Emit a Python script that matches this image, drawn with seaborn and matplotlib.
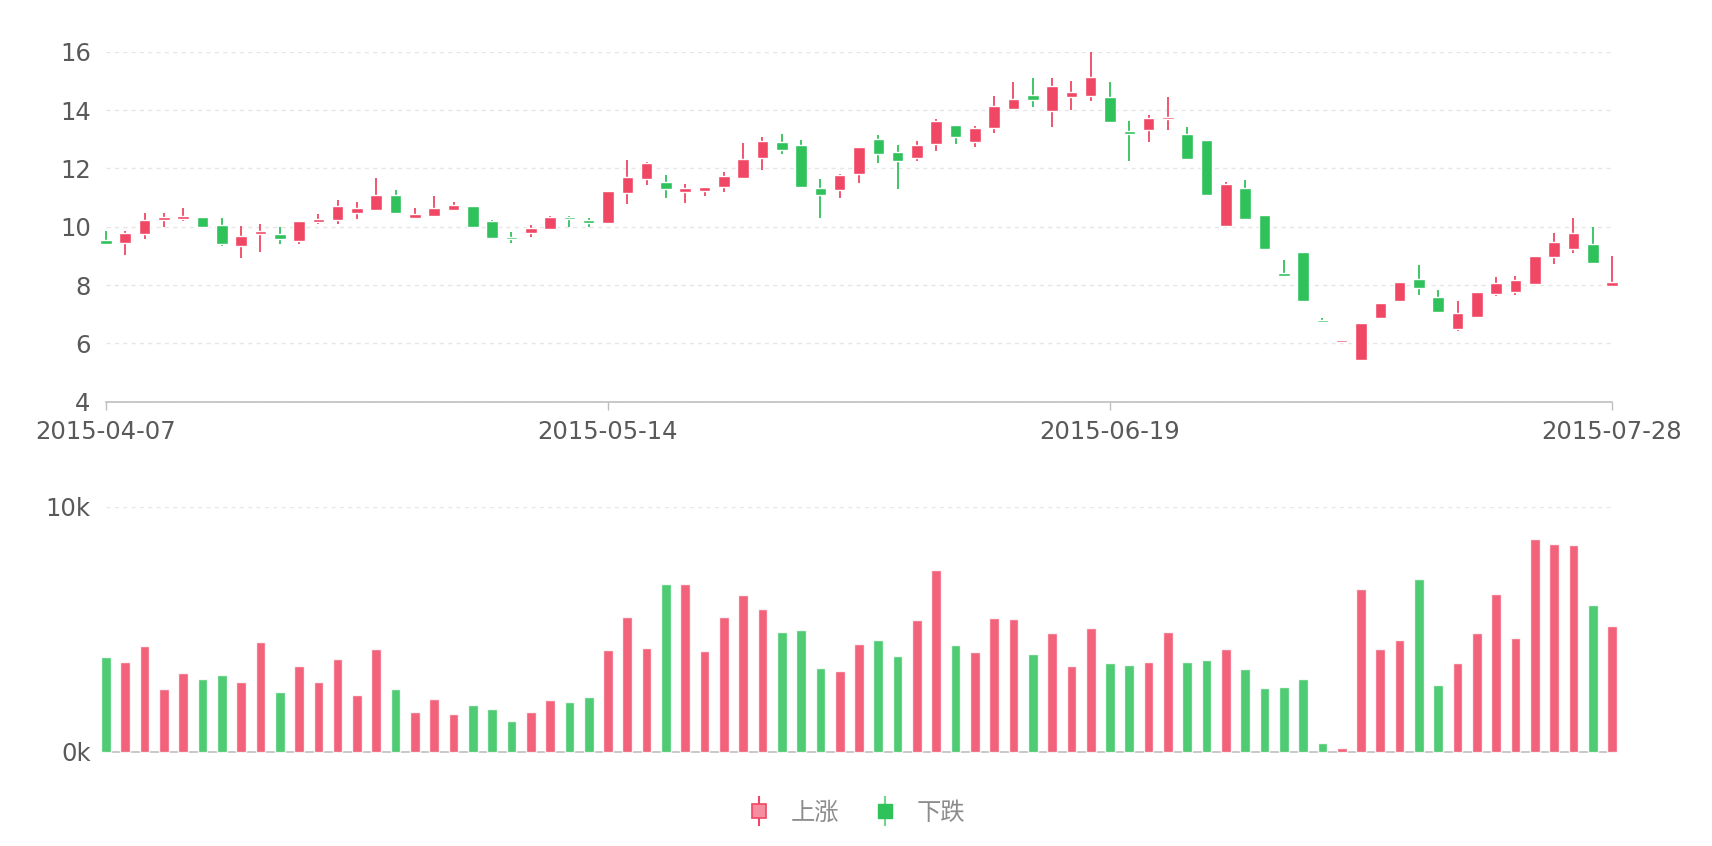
import numpy as np
import pandas as pd
import matplotlib
matplotlib.use("Agg")
import matplotlib.pyplot as plt
import seaborn as sns
from matplotlib.lines import Line2D
from matplotlib.legend_handler import HandlerTuple

# ---------- dados ----------
feriados = ["2015-05-01", "2015-06-22"]
datas = [d.strftime("%Y-%m-%d") for d in pd.bdate_range("2015-04-07", "2015-07-28")
         if d.strftime("%Y-%m-%d") not in feriados]

abertura = [9.54, 9.43, 9.75, 10.22, 10.26, 10.34, 10.05, 9.33, 9.76, 9.74,
            9.52, 10.17, 10.22, 10.47, 10.56, 11.10, 10.29, 10.38, 10.57, 10.70,
            10.19, 9.65, 9.78, 9.93, 10.33, 10.22, 10.14, 11.15, 11.65, 11.52,
            11.19, 11.23, 11.36, 11.66, 12.37, 12.90, 12.80, 11.31, 11.26, 11.81,
            13.02, 12.56, 12.34, 12.85, 13.47, 12.91, 13.37, 14.03, 14.51, 13.98,
            14.43, 14.47, 14.46, 13.27, 13.33, 13.68, 13.17, 12.98, 10.03, 11.34,
            10.40, 8.40, 9.12, 6.79, 6.05, 5.43, 6.87, 7.46, 8.22, 7.59,
            6.50, 6.91, 7.69, 7.77, 8.05, 8.97, 9.23, 9.42, 7.97]
fechamento = [9.42, 9.79, 10.23, 10.32, 10.37, 10.00, 9.39, 9.68, 9.84, 9.57,
              10.21, 10.26, 10.72, 10.64, 11.09, 10.46, 10.42, 10.65, 10.74, 9.98,
              9.62, 9.57, 9.95, 10.33, 10.26, 10.14, 11.21, 11.71, 12.17, 11.30,
              11.34, 11.35, 11.73, 12.32, 12.95, 12.63, 11.37, 11.07, 11.76, 12.74,
              12.50, 12.26, 12.79, 13.63, 13.09, 13.38, 14.15, 14.39, 14.35, 14.82,
              14.62, 15.14, 13.59, 13.17, 13.73, 13.75, 12.33, 11.09, 11.46, 10.26,
              9.22, 8.30, 7.46, 6.72, 6.10, 6.71, 7.37, 8.11, 7.89, 7.09,
              7.04, 7.75, 8.06, 8.16, 8.98, 9.49, 9.79, 8.77, 8.10]
minima = [9.37, 9.03, 9.57, 10.00, 10.19, 9.97, 9.35, 8.91, 9.14, 9.41,
          9.41, 10.08, 10.10, 10.25, 10.56, 10.46, 10.25, 10.38, 10.55, 9.98,
          9.60, 9.45, 9.65, 9.90, 10.00, 10.00, 10.10, 10.79, 11.44, 10.99,
          10.80, 11.04, 11.18, 11.62, 11.95, 12.50, 11.37, 10.31, 11.00, 11.49,
          12.19, 11.28, 12.24, 12.59, 12.85, 12.72, 13.20, 14.00, 14.09, 13.42,
          14.00, 14.30, 13.59, 12.26, 12.90, 13.30, 12.33, 11.09, 10.00, 10.26,
          9.22, 8.30, 7.46, 6.72, 6.05, 5.43, 6.87, 7.46, 7.66, 7.09,
          6.42, 6.91, 7.62, 7.65, 8.05, 8.73, 9.11, 8.77, 7.92]
maxima = [9.85, 9.85, 10.46, 10.48, 10.63, 10.34, 10.29, 10.03, 10.08, 10.00,
          10.21, 10.42, 10.91, 10.83, 11.67, 11.26, 10.63, 11.05, 10.83, 10.70,
          10.23, 9.83, 10.07, 10.37, 10.35, 10.31, 11.21, 12.27, 12.23, 11.76,
          11.45, 11.35, 11.87, 12.86, 13.06, 13.17, 12.98, 11.62, 11.79, 12.74,
          13.13, 12.79, 12.93, 13.68, 13.47, 13.45, 14.49, 14.96, 15.09, 15.09,
          14.99, 16.00, 14.95, 13.62, 13.83, 14.43, 13.41, 12.98, 11.52, 11.60,
          10.40, 8.86, 9.12, 6.87, 6.10, 6.71, 7.37, 8.11, 8.67, 7.82,
          7.46, 7.75, 8.26, 8.32, 8.98, 9.77, 10.29, 9.98, 8.98]
volume = [3864, 3673, 4313, 2558, 3197, 2952, 3129, 2844, 4463, 2449,
          3497, 2857, 3769, 2313, 4204, 2544, 1605, 2163, 1551, 1891,
          1741, 1265, 1605, 2095, 2014, 2231, 4163, 5510, 4231, 6857,
          6844, 4122, 5510, 6395, 5823, 4871, 4966, 3415, 3293, 4395,
          4544, 3905, 5374, 7401, 4354, 4068, 5456, 5401, 4000, 4830,
          3483, 5034, 3605, 3551, 3646, 4884, 3660, 3728, 4190, 3388,
          2599, 2626, 2952, 367, 150, 6653, 4177, 4558, 7061, 2721,
          3605, 4830, 6422, 4626, 8667, 8490, 8435, 5986, 5116]

VERMELHO = "#F04864"
VERDE = "#2FC25B"
COR_TEXTO = "#595959"
COR_EIXO = "#bfbfbf"
COR_GRADE = "#e6e6e6"

# ---------- preparação ----------
df = pd.DataFrame({"data": datas, "abertura": abertura, "fechamento": fechamento,
                   "minima": minima, "maxima": maxima, "volume": volume})
df["idx"] = np.arange(len(df))
df["tendencia"] = np.where(df["fechamento"] >= df["abertura"], "上涨", "下跌")
paleta = {"上涨": VERMELHO, "下跌": VERDE}
cores = df["tendencia"].map(paleta)

sns.set_theme(style="white")
plt.rcParams["font.family"] = ["DejaVu Sans"]

fig = plt.figure(figsize=(17.12, 8.46), dpi=100)
ax1 = fig.add_axes([0.0619, 0.5252, 0.8797, 0.4137])
ax2 = fig.add_axes([0.0619, 0.1115, 0.8797, 0.2896])

# ---------- candlestick ----------
ax1.vlines(df["idx"], df["minima"], df["maxima"], colors=cores, lw=1.3, zorder=3, clip_on=False)
altura = np.maximum((df["fechamento"] - df["abertura"]).abs(), 0.05)
base = np.minimum(df["abertura"], df["fechamento"])
barras = ax1.bar(df["idx"], altura, bottom=base, width=0.6, color=cores, zorder=4)
for p in barras:
    p.set_clip_on(False)

ax1.set_xlim(0, len(df) - 1)
ax1.set_ylim(4, 16)
ax1.set_yticks(range(4, 17, 2))
pos_ticks = [0, 26, 52, 78]
ax1.set_xticks(pos_ticks)
ax1.set_xticklabels([datas[i] for i in pos_ticks])
ax1.grid(axis="y", color=COR_GRADE, linestyle=(0, (3, 3)), lw=1.0)
ax1.grid(axis="x", visible=False)
ax1.tick_params(axis="x", length=6, width=1, color=COR_EIXO, pad=7,
                labelsize=17.5, labelcolor=COR_TEXTO, bottom=True)
ax1.tick_params(axis="y", length=0, pad=11, labelsize=17.5, labelcolor=COR_TEXTO)
for lado in ["top", "right", "left"]:
    ax1.spines[lado].set_visible(False)
ax1.spines["bottom"].set_color(COR_EIXO)
ax1.spines["bottom"].set_linewidth(1.2)

# ---------- volume ----------
sns.barplot(data=df, x="idx", y="volume", hue="tendencia", palette=paleta,
            native_scale=True, dodge=False, width=0.5, saturation=1, alpha=0.85,
            errorbar=None, legend=False, ax=ax2, zorder=3)
for p in ax2.patches:
    p.set_clip_on(False)
ax2.set_xlim(0, len(df) - 1)
ax2.set_ylim(0, 10000)
ax2.set_yticks([0, 10000])
ax2.set_yticklabels(["0k", "10k"])
ax2.set_xticks([])
ax2.set_xlabel("")
ax2.set_ylabel("")
ax2.grid(axis="y", color=COR_GRADE, linestyle=(0, (3, 3)), lw=1.0)
ax2.tick_params(axis="y", length=0, pad=11, labelsize=17.5, labelcolor=COR_TEXTO)
for lado in ["top", "right", "left"]:
    ax2.spines[lado].set_visible(False)
ax2.spines["bottom"].set_color(COR_EIXO)
ax2.spines["bottom"].set_linewidth(1.2)

# ---------- legenda ----------
h_up = (Line2D([], [], marker="|", markersize=21, markeredgewidth=1.5, color=VERMELHO, linestyle="None"),
        Line2D([], [], marker="s", markersize=10, markerfacecolor="#F68EA0",
               markeredgecolor=VERMELHO, markeredgewidth=1.2, linestyle="None"))
h_down = (Line2D([], [], marker="|", markersize=21, markeredgewidth=1.5, color="#6fd68e", linestyle="None"),
          Line2D([], [], marker="s", markersize=10, markerfacecolor=VERDE,
                 markeredgecolor=VERDE, linestyle="None"))
fig.legend(handles=[h_up, h_down], labels=["上涨", "下跌"],
           handler_map={tuple: HandlerTuple(ndivide=1)},
           loc="center", bbox_to_anchor=(0.5, 0.039), ncol=2, frameon=False,
           prop={"family": ["Noto Sans CJK SC", "DejaVu Sans"], "size": 17.5},
           labelcolor="#8c8c8c", handlelength=1.0, handletextpad=0.8, columnspacing=1.4)

fig.savefig("out.png", dpi=100)
